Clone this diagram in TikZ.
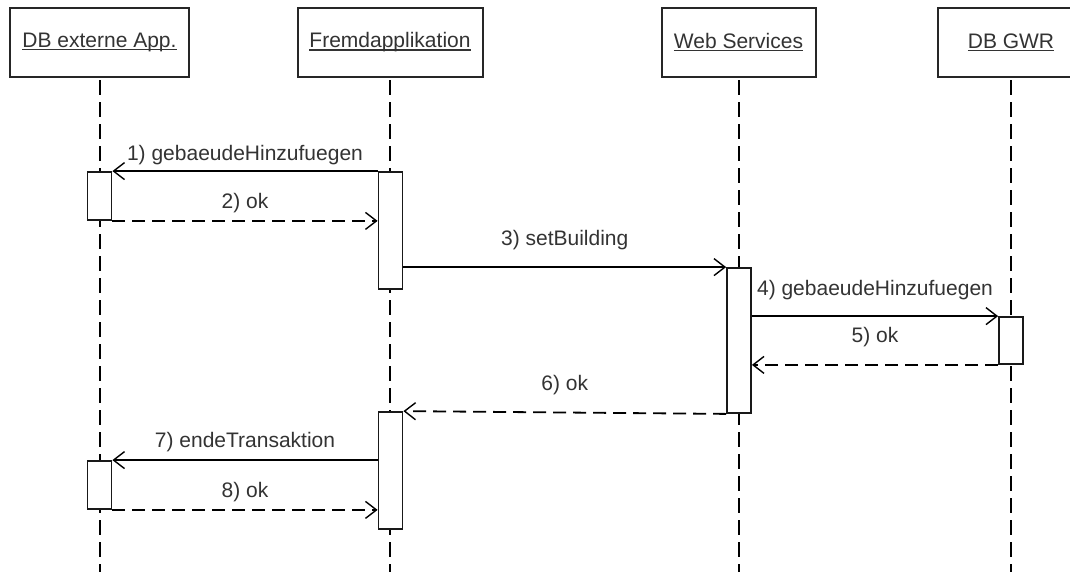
\documentclass[tikz,border=0pt]{standalone}
\usepackage{fontspec}
\setmainfont{Liberation Sans}
\usetikzlibrary{arrows.meta}
\newcommand\myul[1]{\setbox0\hbox{#1}\rlap{\rule[-2.6pt]{\wd0}{1.5pt}}\box0}
\tikzset{
  head/.style={draw=black!85, fill=white, line width=2pt, minimum height=69pt, inner sep=0pt, text=black!80, font=\fontsize{21}{24}\selectfont},
  lifeln/.style={draw=black, line width=2pt, dash pattern=on 15pt off 7pt},
  actbar/.style={draw=black!90, fill=white, line width=1.8pt, minimum width=24pt, inner sep=0pt},
  tipstyle/.style={-{Straight Barb[length=11pt,width=17pt,line width=1.4pt]}},
  callmsg/.style={tipstyle, draw=black, line width=1.8pt},
  retmsg/.style={tipstyle, draw=black, line width=1.8pt, dash pattern=on 13pt off 7pt},
  lbl/.style={anchor=base, inner sep=0pt, text=black!80, font=\fontsize{21}{24}\selectfont},
  lblnear/.style={lbl, yshift=11pt},
  lblfar/.style={lbl, yshift=22pt}
}
\begin{document}
\begin{tikzpicture}[x=1pt,y=-1pt]
\useasboundingbox (0,0) rectangle (1070,571);
\clip (0,0) rectangle (1070,571);
\fill[white] (0,0) rectangle (1070,571);

% heads
\node[head, minimum width=179pt] (hA) at (99.5,42.5) {\myul{DB externe App.}};
\node[head, minimum width=185pt] (hF) at (390,42.5) {\myul{Fremdapplikation}};
\node[head, minimum width=154pt] (hW) at (738.5,42.5) {\myul{Web Services}};
\node[head, minimum width=146pt] (hG) at (1011,42.5) {\myul{DB GWR}};

% lifeline ends
\coordinate (eA) at (99.5,575);
\coordinate (eF) at (390,575);
\coordinate (eW) at (738.5,575);
\coordinate (eG) at (1011,575);
\draw[lifeln] ([yshift=-2pt]hA.south) -- (eA);
\draw[lifeln] ([yshift=-2pt]hF.south) -- (eF);
\draw[lifeln] ([yshift=-2pt]hW.south) -- (eW);
\draw[lifeln] ([yshift=-2pt]hG.south) -- (eG);

% activation bars
\node[actbar, minimum height=48pt] (A1) at (99.5,196) {};
\node[actbar, minimum height=117pt] (F1) at (390.5,230.5) {};
\node[actbar, minimum height=145pt] (W) at (739,340.5) {};
\node[actbar, minimum height=47pt] (G) at (1011,340.5) {};
\node[actbar, minimum height=117pt] (F2) at (390.5,470.5) {};
\node[actbar, minimum height=48pt] (A2) at (99.5,485) {};

% messages
\draw[callmsg] (F1.north west) -- node[lblnear] {1) gebaeudeHinzufuegen} (A1.north east);
\draw[retmsg] (A1.south east) -- node[lblnear, yshift=1pt] {2) ok} (F1.west |- A1.south east);
\draw[callmsg] (F1.east |- W.north) -- node[lblfar] {3) setBuilding} (W.north west);
\draw[callmsg] (W.east |- G.north) -- node[lblfar, yshift=-1pt] {4) gebaeudeHinzufuegen} (G.north west);
\draw[retmsg] (G.south west) -- node[lblfar] {5) ok} (W.east |- G.south west);
\draw[retmsg] (W.south west) -- node[lblfar] {6) ok} (F2.north east);
\draw[callmsg] (F2.west |- A2.north) -- node[lblnear, yshift=2pt] {7) endeTransaktion} (A2.north east);
\draw[retmsg] (A2.south east) -- node[lblnear, yshift=1pt] {8) ok} (F2.west |- A2.south);
\end{tikzpicture}
\end{document}
